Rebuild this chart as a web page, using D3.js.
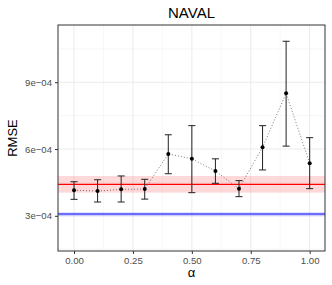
<!DOCTYPE html>
<html><head><meta charset="utf-8">
<script src="https://cdn.jsdelivr.net/npm/d3@7"></script>
<style>body{margin:0;background:#fff}svg{display:block;font-family:"Liberation Sans",Arial,sans-serif}</style>
</head><body><svg id="c" width="332" height="285"></svg>
<script>
const alphas = [0,0.1,0.2,0.3,0.4,0.5,0.6,0.7,0.8,0.9,1.0];
const rmse   = [4.15e-4,4.11e-4,4.19e-4,4.20e-4,5.78e-4,5.56e-4,5.01e-4,4.22e-4,6.08e-4,8.50e-4,5.36e-4];
const upper  = [4.53e-4,4.62e-4,4.79e-4,4.64e-4,6.64e-4,7.05e-4,5.56e-4,4.58e-4,7.05e-4,1.084e-3,6.51e-4];
const lower  = [3.74e-4,3.62e-4,3.62e-4,3.75e-4,4.89e-4,4.04e-4,4.46e-4,3.86e-4,5.06e-4,6.13e-4,4.22e-4];
const refRed  = [4.41e-4, 4.04e-4, 4.79e-4]; // line, band low, band high
const refBlue = [3.08e-4, 2.98e-4, 3.16e-4];
const xTicks = [0,0.25,0.5,0.75,1.0];
const xTickLabels = ["0.00","0.25","0.50","0.75","1.00"];
const yTicks = [3e-4,6e-4,9e-4];
const yTickLabels = ["3e\u221204","6e\u221204","9e\u221204"];
const xMinor = [0.125,0.375,0.625,0.875];
const yMinor = [1.5e-4,4.5e-4,7.5e-4,1.05e-3];

const svg = d3.select("#c");
const L=58,R=325,T=25,B=251;
const x = d3.scaleLinear().domain([-0.068,1.065]).range([L,R]);
const y = d3.scaleLinear().domain([1.42e-4,1.157e-3]).range([B,T]);

const g = svg.append("g");
// grid
g.selectAll(".xm").data(xMinor).enter().append("line").attr("x1",d=>x(d)).attr("x2",d=>x(d)).attr("y1",T).attr("y2",B).attr("stroke","#f2f2f2").attr("stroke-width",0.6);
g.selectAll(".ym").data(yMinor).enter().append("line").attr("y1",d=>y(d)).attr("y2",d=>y(d)).attr("x1",L).attr("x2",R).attr("stroke","#f2f2f2").attr("stroke-width",0.6);
g.selectAll(".xM").data(xTicks).enter().append("line").attr("x1",d=>x(d)).attr("x2",d=>x(d)).attr("y1",T).attr("y2",B).attr("stroke","#ebebeb").attr("stroke-width",1);
g.selectAll(".yM").data(yTicks).enter().append("line").attr("y1",d=>y(d)).attr("y2",d=>y(d)).attr("x1",L).attr("x2",R).attr("stroke","#ebebeb").attr("stroke-width",1);

// reference bands
g.append("rect").attr("x",L).attr("width",R-L).attr("y",y(refRed[2])).attr("height",y(refRed[1])-y(refRed[2])).attr("fill","rgba(255,0,0,0.15)");
g.append("line").attr("x1",L).attr("x2",R).attr("y1",y(refRed[0])).attr("y2",y(refRed[0])).attr("stroke","#ff0000").attr("stroke-width",1.1);
g.append("rect").attr("x",L).attr("width",R-L).attr("y",y(refBlue[2])).attr("height",y(refBlue[1])-y(refBlue[2])).attr("fill","rgba(0,0,255,0.15)");
g.append("line").attr("x1",L).attr("x2",R).attr("y1",y(refBlue[0])).attr("y2",y(refBlue[0])).attr("stroke","#0000ff").attr("stroke-width",1.1);

// dotted line
const data = alphas.map((a,i)=>({a,v:rmse[i],lo:lower[i],hi:upper[i]}));
g.append("path").datum(data).attr("d",d3.line().x(d=>x(d.a)).y(d=>y(d.v))).attr("fill","none").attr("stroke","#555").attr("stroke-width",0.8).attr("stroke-dasharray","1,2");
// error bars
const cw = 0.015;
const eb = g.selectAll(".eb").data(data).enter().append("g").attr("stroke","#222").attr("stroke-width",1);
eb.append("line").attr("x1",d=>x(d.a)).attr("x2",d=>x(d.a)).attr("y1",d=>y(d.lo)).attr("y2",d=>y(d.hi));
eb.append("line").attr("x1",d=>x(d.a-cw)).attr("x2",d=>x(d.a+cw)).attr("y1",d=>y(d.lo)).attr("y2",d=>y(d.lo));
eb.append("line").attr("x1",d=>x(d.a-cw)).attr("x2",d=>x(d.a+cw)).attr("y1",d=>y(d.hi)).attr("y2",d=>y(d.hi));
g.selectAll(".pt").data(data).enter().append("circle").attr("cx",d=>x(d.a)).attr("cy",d=>y(d.v)).attr("r",2).attr("fill","#000");

// border
g.append("rect").attr("x",L).attr("y",T).attr("width",R-L).attr("height",B-T).attr("fill","none").attr("stroke","#333").attr("stroke-width",1);

// axes
const xa = svg.append("g").attr("transform",`translate(0,${B})`).call(d3.axisBottom(x).tickValues(xTicks).tickFormat((d,i)=>xTickLabels[i]).tickSize(3).tickPadding(3));
const ya = svg.append("g").attr("transform",`translate(${L},0)`).call(d3.axisLeft(y).tickValues(yTicks).tickFormat((d,i)=>yTickLabels[i]).tickSize(3).tickPadding(3));
[xa,ya].forEach(a=>{a.select(".domain").remove();a.selectAll(".tick line").attr("stroke","#333");a.selectAll("text").attr("fill","#4d4d4d").style("font-size","9.6px").style("font-family","'Liberation Sans',Arial,sans-serif");});

svg.append("text").attr("x",(L+R)/2).attr("y",18).attr("text-anchor","middle").style("font-size","15px").attr("fill","#000").text("NAVAL");
svg.append("text").attr("x",(L+R)/2).attr("y",277).attr("text-anchor","middle").style("font-size","13px").text("α");
svg.append("text").attr("transform",`translate(17,${(T+B)/2}) rotate(-90)`).attr("text-anchor","middle").style("font-size","13px").text("RMSE");
</script></body></html>
